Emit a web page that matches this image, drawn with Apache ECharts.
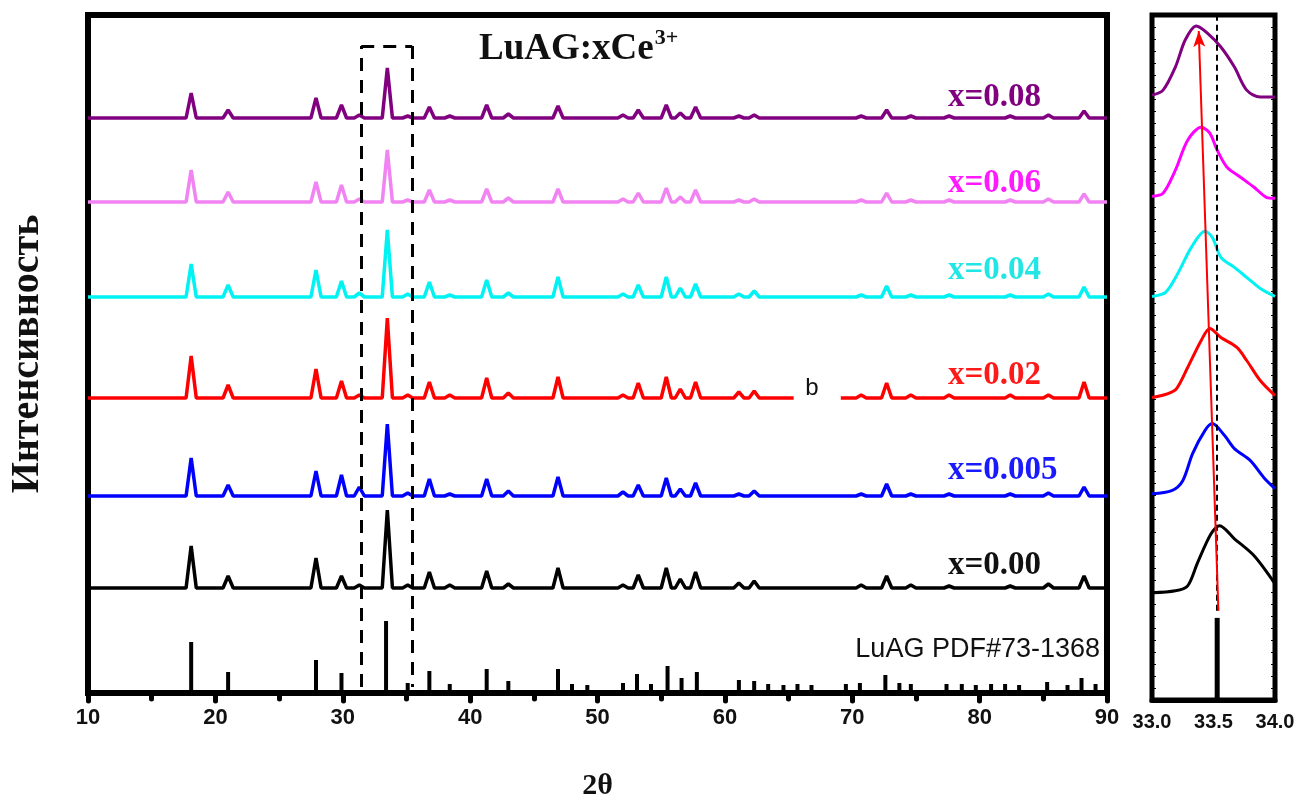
<!DOCTYPE html>
<html lang="ru">
<head>
<meta charset="UTF-8">
<title>LuAG:xCe XRD</title>
<script src="https://cdn.jsdelivr.net/npm/echarts@6/dist/echarts.min.js"></script>
<style>
    *{margin:0;padding:0;box-sizing:border-box;}
    html,body{width:100%;height:100%;background:#fff;}
    #main{width:1297px;height:801px;}
</style>
</head>
<body>
<div id="main"></div>
<script>
// peak positions (2θ) shared by the measured patterns
var peakPos = [18.1, 21.0, 27.9, 29.9, 31.3, 33.5, 35.1, 36.8, 38.4, 41.3, 43.0, 46.9, 52.0,
               53.2, 55.4, 56.5, 57.7, 61.1, 62.3, 70.7, 72.7, 74.6, 77.6, 82.4, 85.4, 88.2];
// peak heights above each baseline (a.u.)
var hX008  = [25, 8, 20, 13, 3, 50, 2, 11, 2, 13, 4, 12, 3, 8, 13, 5, 11, 2, 3, 2, 8, 2, 2, 2, 3, 7];
var hX006  = [32, 10, 20, 17, 3, 52, 2, 12, 2, 13, 4, 13, 3, 9, 14, 5, 12, 2, 3, 2, 9, 2, 2, 2, 3, 8];
var hX004  = [33, 12, 27, 16, 4, 67, 3, 15, 2, 17, 4, 20, 3, 12, 20, 9, 13, 3, 6, 2, 11, 2, 2, 2, 3, 10];
var hX002  = [42, 13, 29, 17, 3, 80, 3, 16, 3, 20, 5, 21, 3, 15, 21, 9, 16, 6, 7, 3, 15, 3, 3, 3, 3, 16];
var hX0005 = [38, 11, 25, 21, 9, 72, 3, 17, 2, 17, 5, 19, 4, 11, 18, 7, 13, 2, 5, 2, 12, 2, 2, 2, 3, 9];
var hX000  = [42, 12, 30, 12, 3, 78, 3, 16, 3, 17, 4, 20, 3, 13, 20, 9, 16, 5, 7, 3, 12, 3, 2, 2, 4, 12];
// vertical offset of each pattern
var baselines = [575, 491, 396, 295, 197, 105];
var seriesNames = ['x=0.08', 'x=0.06', 'x=0.04', 'x=0.02', 'x=0.005', 'x=0.00'];
var redGap = [65.4, 69.1];   // break in the x=0.02 trace where the "b" sits

// reference card LuAG PDF#73-1368
var refPos = [18.1, 21.0, 27.9, 29.9, 33.4, 35.1, 36.8, 38.4, 41.3, 43.0, 46.9, 48.0, 49.2, 52.0,
              53.1, 54.2, 55.5, 56.6, 57.8, 61.1, 62.3, 63.4, 64.6, 65.7, 66.8, 69.5, 70.6, 72.6,
              73.7, 74.6, 77.4, 78.6, 79.7, 80.9, 82.0, 83.1, 85.3, 86.9, 88.0, 89.1];
var refInt = [51, 21, 33, 20, 72, 10, 22, 9, 24, 12, 24, 9, 8, 10, 19, 9, 27, 15, 21, 13, 12, 9, 8,
              9, 8, 9, 10, 18, 10, 9, 9, 9, 8, 9, 9, 8, 11, 8, 15, 9];

// zoom of the (420) reflection, 33-34°
var zX008  = [[33.0,604],[33.09,609],[33.19,632],[33.27,659],[33.36,673],[33.45,666],[33.56,652],[33.67,632],[33.77,609],[33.88,602],[34.0,602]];
var zX006  = [[33.0,503],[33.09,506],[33.19,529],[33.29,559],[33.40,572],[33.47,566],[33.53,549],[33.61,532],[33.72,522],[33.83,512],[33.93,502],[34.0,501]];
var zX004  = [[33.0,403],[33.11,407],[33.21,426],[33.32,452],[33.43,468],[33.49,462],[33.56,442],[33.67,432],[33.77,422],[33.88,411],[34.0,403]];
var zX002  = [[33.0,302],[33.13,306],[33.2,311],[33.29,332],[33.40,359],[33.47,371],[33.56,362],[33.69,352],[33.77,339],[33.88,319],[34.0,304]];
var zX0005 = [[33.0,206],[33.16,209],[33.25,219],[33.33,246],[33.43,269],[33.49,276],[33.59,264],[33.67,251],[33.8,239],[33.91,222],[34.0,211]];
var zX000  = [[33.0,107],[33.19,109],[33.29,114],[33.37,137],[33.48,166],[33.55,174],[33.67,161],[33.83,144],[34.0,116]];
var zRef = [[33.53, 82]];

var lineColors  = ['#800080', '#f283f2', '#00f2f2', '#ff0000', '#0000ff', '#000000'];
var zoomColors  = ['#800080', '#ff00ff', '#00f2f2', '#ff0000', '#0000ff', '#000000'];
var labelColors = ['#800080', '#ff1aff', '#22e6e6', '#ff1a1a', '#1a1aff', '#111111'];
var labelY = [97, 183, 270, 375, 470, 565];

var halfW = 0.4;
var heights = [hX008, hX006, hX004, hX002, hX0005, hX000];
var zoomData = [zX008, zX006, zX004, zX002, zX0005, zX000];

var serif = '"Liberation Serif", "Times New Roman", serif';
var sans = '"Liberation Sans", Arial, sans-serif';

function traceData(base, h, gap) {
    var pts = [[10, base]];
    var gapDone = !gap;
    peakPos.forEach(function (p, i) {
        if (!gapDone && p > gap[0]) {
            pts.push([gap[0], base], [gap[0], null], [gap[1], base]);
            gapDone = true;
        }
        pts.push([p - halfW, base], [p, base + h[i]], [p + halfW, base]);
    });
    pts.push([90, base]);
    return pts;
}

var myChart = echarts.init(document.getElementById('main'));

var series = [];
seriesNames.forEach(function (n, i) {
    series.push({
        name: n, type: 'line', xAxisIndex: 0, yAxisIndex: 0,
        data: traceData(baselines[i], heights[i], i === 3 ? redGap : null),
        showSymbol: false, connectNulls: false,
        lineStyle: {color: lineColors[i], width: 3.5}
    });
});
series.push({
    name: 'PDF', type: 'bar', xAxisIndex: 0, yAxisIndex: 0,
    data: refPos.map(function (p, i) { return [p, refInt[i]]; }),
    barWidth: 4, itemStyle: {color: '#000'},
    markLine: {
        silent: true, symbol: ['none', 'none'], label: {show: false},
        lineStyle: {color: '#000', width: 3, type: [13, 9]},
        data: [
            [{coord: [31.45, 6]}, {coord: [31.45, 647]}],
            [{coord: [31.45, 647]}, {coord: [35.45, 647]}],
            [{coord: [35.45, 647]}, {coord: [35.45, 6]}]
        ]
    }
});
zoomData.forEach(function (d, i) {
    series.push({
        type: 'line', xAxisIndex: 1, yAxisIndex: 1, data: d,
        showSymbol: false, smooth: 0.3,
        lineStyle: {color: zoomColors[i], width: 3}
    });
});
series.push({
    type: 'bar', xAxisIndex: 1, yAxisIndex: 1, data: zRef,
    barWidth: 5, itemStyle: {color: '#000'},
    markLine: {
        silent: true, symbol: ['none', 'none'], label: {show: false},
        data: [
            [{coord: [33.53, 89], lineStyle: {color: '#000', width: 2, type: [6, 4]}},
             {coord: [33.53, 684]}],
            [{coord: [33.54, 89], lineStyle: {color: '#ff0000', width: 2, type: 'solid'}},
             {coord: [33.38, 668], symbol: 'arrow', symbolSize: [9, 16]}]
        ]
    }
});

var texts = seriesNames.map(function (n, i) {
    return {
        type: 'text', x: 948, y: labelY[i],
        style: {text: n, fill: labelColors[i], font: 'bold 33px ' + serif,
                textAlign: 'left', textVerticalAlign: 'middle', align: 'left', verticalAlign: 'middle'}
    };
});
texts.push({
    type: 'text', x: 1100, y: 650,
    style: {text: 'LuAG PDF#73-1368', fill: '#111', font: '27px ' + sans,
            textAlign: 'right', textVerticalAlign: 'middle', align: 'right', verticalAlign: 'middle'}
});
texts.push({
    type: 'text', x: 812, y: 388,
    style: {text: 'b', fill: '#111', font: '24px ' + sans,
            textAlign: 'center', textVerticalAlign: 'middle', align: 'center', verticalAlign: 'middle'}
});

var zoomTicks = {show: true, inside: true, length: 4, lineStyle: {color: '#000', width: 1}};

var option = {
    animation: false,
    backgroundColor: '#fff',
    title: {
        text: '{a|LuAG:xCe}{s|3+}',
        left: 474, top: 22,
        textStyle: {
            rich: {
                a: {fontFamily: serif, fontWeight: 'bold', fontSize: 37, color: '#111', lineHeight: 44},
                s: {fontFamily: serif, fontWeight: 'bold', fontSize: 22, color: '#111', lineHeight: 44,
                    verticalAlign: 'top', padding: [0, 0, 20, 1]}
            }
        }
    },
    grid: [
        {left: 88, right: 190, top: 15, bottom: 108, show: true, borderWidth: 6, borderColor: '#000',
         outerBoundsMode: 'none', containLabel: false},
        {left: 1152, right: 22, top: 15, bottom: 101, show: true, borderWidth: 5, borderColor: '#000',
         outerBoundsMode: 'none', containLabel: false}
    ],
    xAxis: [
        {
            gridIndex: 0, type: 'value', min: 10, max: 90, interval: 10,
            name: '2θ', nameLocation: 'middle', nameGap: 78,
            nameTextStyle: {fontFamily: serif, fontWeight: 'bold', fontSize: 30, color: '#111'},
            axisLine: {lineStyle: {color: '#000', width: 6}},
            axisTick: {length: 8, lineStyle: {width: 5, color: '#000', cap: 'round'}},
            minorTick: {show: true, splitNumber: 2, length: 6, lineStyle: {width: 5, color: '#000', cap: 'round'}},
            axisLabel: {margin: 14, fontFamily: sans, fontWeight: 'bold', fontSize: 22, color: '#111'},
            splitLine: {show: false}
        },
        {
            gridIndex: 1, type: 'value', min: 33, max: 34, interval: 0.5,
            axisLine: {lineStyle: {color: '#000', width: 5}},
            axisTick: {show: false},
            axisLabel: {margin: 12, fontFamily: '"Liberation Sans Narrow", ' + sans, fontWeight: 'bold',
                        fontSize: 20, color: '#111',
                        formatter: function (v) { return v.toFixed(1); }},
            splitLine: {show: false}
        }
    ],
    yAxis: [
        {
            gridIndex: 0, type: 'value', min: 0, max: 678,
            name: 'Интенсивность', nameLocation: 'middle', nameGap: 40,
            nameTextStyle: {fontFamily: serif, fontWeight: 'bold', fontSize: 40, color: '#111'},
            axisLine: {show: false}, axisTick: {show: false}, axisLabel: {show: false},
            splitLine: {show: false}
        },
        {
            gridIndex: 1, type: 'value', min: 0, max: 684, interval: 12, position: 'left',
            axisLine: {show: false}, axisTick: zoomTicks,
            axisLabel: {show: false}, splitLine: {show: false}
        },
        {
            gridIndex: 1, type: 'value', min: 0, max: 684, interval: 12, position: 'right',
            axisLine: {show: false}, axisTick: zoomTicks,
            axisLabel: {show: false}, splitLine: {show: false}
        }
    ],
    series: series,
    graphic: texts
};

myChart.setOption(option);
window.onresize = myChart.resize;
</script>
</body>
</html>
